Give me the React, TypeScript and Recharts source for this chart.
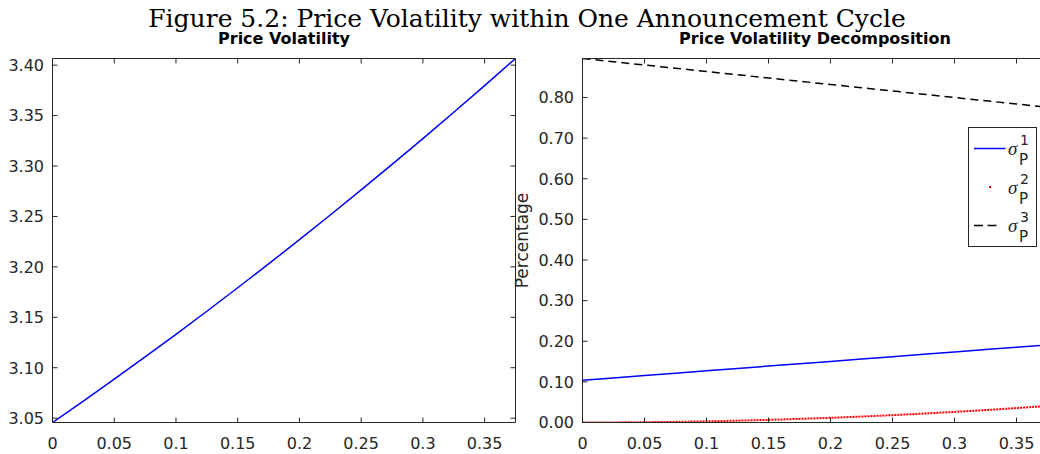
import React from 'react';
import { LineChart, Line, XAxis, YAxis, Legend } from 'recharts';

// time within the announcement cycle
const cycleTimes = [0, 0.025, 0.05, 0.075, 0.1, 0.125, 0.15, 0.175, 0.2, 0.225, 0.25, 0.275, 0.3, 0.325, 0.35, 0.375];

// left panel: price volatility
const priceVolatility = [3.0457, 3.067, 3.0886, 3.1107, 3.1331, 3.156, 3.1793, 3.2029, 3.227, 3.2514, 3.2763, 3.3016, 3.3272, 3.3533, 3.3797, 3.4066];

// right panel: decomposition shares
const sigmaP1 = [0.104, 0.1098, 0.1156, 0.1214, 0.1272, 0.133, 0.1388, 0.1446, 0.1504, 0.1562, 0.162, 0.1678, 0.1736, 0.1794, 0.1852, 0.191];
const sigmaP2 = [0, 0.0002, 0.0007, 0.0016, 0.0029, 0.0045, 0.0065, 0.0089, 0.0116, 0.0147, 0.0181, 0.0219, 0.0261, 0.0306, 0.0355, 0.0408];
const sigmaP3 = [0.896, 0.888, 0.88, 0.872, 0.864, 0.856, 0.848, 0.84, 0.832, 0.824, 0.816, 0.808, 0.8, 0.792, 0.784, 0.776];

const xTicks = [0, 0.05, 0.1, 0.15, 0.2, 0.25, 0.3, 0.35];
const volTicks = [3.05, 3.1, 3.15, 3.2, 3.25, 3.3, 3.35, 3.4];
const shareTicks = [0, 0.1, 0.2, 0.3, 0.4, 0.5, 0.6, 0.7, 0.8];

const volData = cycleTimes.map((x, i) => ({ x, vol: priceVolatility[i] }));
const shareData = cycleTimes.map((x, i) => ({ x, s1: sigmaP1[i], s2: sigmaP2[i], s3: sigmaP3[i] }));

const AX = '#262626';
const SANS = '"DejaVu Sans", sans-serif';
const TL = 5;

const fmtX = (v: number) => String(Number(v.toFixed(2)));

const BottomTick = (props: any) => {
  const { x, y, payload } = props;
  return (
    <g>
      <line x1={x} x2={x} y1={y} y2={y - TL} stroke={AX} />
      <text x={x} y={y + 26.5} textAnchor="middle" fontFamily={SANS} fontSize={16} fill={AX}>
        {fmtX(payload.value)}
      </text>
    </g>
  );
};

const TopTick = (props: any) => {
  const { x, y } = props;
  return <line x1={x} x2={x} y1={y} y2={y + TL} stroke={AX} />;
};

const LeftTick = (props: any) => {
  const { x, y, payload } = props;
  return (
    <g>
      <line x1={x} x2={x + TL} y1={y} y2={y} stroke={AX} />
      <text x={x - 8.5} y={y + 5.8} textAnchor="end" fontFamily={SANS} fontSize={16} fill={AX}>
        {payload.value.toFixed(2)}
      </text>
    </g>
  );
};

const RightTick = (props: any) => {
  const { x, y } = props;
  return <line x1={x} x2={x - TL} y1={y} y2={y} stroke={AX} />;
};

const SigmaLabel = ({ y, n }: { y: number; n: string }) => (
  <g fill={AX}>
    <text x={40} y={y} fontFamily='"Liberation Serif", serif' fontStyle="italic" fontSize={19}>σ</text>
    <text x={52} y={y - 10} fontFamily={SANS} fontSize={14}>{n}</text>
    <text x={51} y={y + 10} fontFamily={SANS} fontSize={15}>P</text>
  </g>
);

const LegendBox = () => (
  <svg width={69} height={120} style={{ display: 'block' }}>
    <rect x={0.5} y={0.5} width={68} height={119} fill="#fff" stroke={AX} />
    <line x1={6} x2={37.5} y1={21.5} y2={21.5} stroke="#0000ff" strokeWidth={1.5} />
    <SigmaLabel y={28} n="1" />
    <rect x={21} y={59} width={2} height={2} fill="#ff0000" />
    <SigmaLabel y={67} n="2" />
    <line x1={6} x2={29} y1={98.5} y2={98.5} stroke="#000" strokeWidth={1.5} strokeDasharray="9 4.5" />
    <SigmaLabel y={105} n="3" />
  </svg>
);

const PercentLabel = (props: any) => {
  const { viewBox } = props;
  const x = viewBox.x - 53.5;
  const y = viewBox.y + viewBox.height / 2;
  return (
    <text transform={`translate(${x},${y}) rotate(-90)`} textAnchor="middle" fontFamily={SANS} fontSize={17} fill={AX}>
      Percentage
    </text>
  );
};

const App: React.FC = () => {
  return (
    <div style={{ position: 'absolute', left: 0, top: 0, width: 1040, height: 454, overflow: 'hidden', background: '#fff' }}>
      <svg width={1040} height={50} style={{ position: 'absolute', left: 0, top: 0 }}>
        <text x={527} y={27} textAnchor="middle" fontFamily='"DejaVu Serif", serif' fontSize={25} fill="#000">
          Figure 5.2: Price Volatility within One Announcement Cycle
        </text>
        <text x={284} y={44} textAnchor="middle" fontFamily={SANS} fontWeight="bold" fontSize={16} fill="#000">
          Price Volatility
        </text>
        <text x={815} y={44} textAnchor="middle" fontFamily={SANS} fontWeight="bold" fontSize={16} fill="#000">
          Price Volatility Decomposition
        </text>
      </svg>

      <div style={{ position: 'absolute', left: 0, top: 0 }}>
        <LineChart width={530} height={454} data={volData} margin={{ top: 57.5, left: 51.5, right: 13.5, bottom: 30.5 }}>
          <XAxis dataKey="x" type="number" domain={[0, 0.375]} ticks={xTicks} allowDataOverflow height={1}
            tickSize={0} tickMargin={0} tickLine={false} axisLine={{ stroke: AX }} tick={<BottomTick />} interval={0} />
          <XAxis xAxisId="t" orientation="top" dataKey="x" type="number" domain={[0, 0.375]} ticks={xTicks} allowDataOverflow height={1}
            tickSize={0} tickMargin={0} tickLine={false} axisLine={{ stroke: AX }} tick={<TopTick />} interval={0} />
          <YAxis type="number" domain={[3.0457, 3.4066]} ticks={volTicks} allowDataOverflow width={1}
            tickSize={0} tickMargin={0} tickLine={false} axisLine={{ stroke: AX }} tick={<LeftTick />} interval={0} />
          <YAxis yAxisId="r" orientation="right" type="number" domain={[3.0457, 3.4066]} ticks={volTicks} allowDataOverflow width={1}
            tickSize={0} tickMargin={0} tickLine={false} axisLine={{ stroke: AX }} tick={<RightTick />} interval={0} />
          <Line type="linear" dataKey="vol" stroke="#0000ff" strokeWidth={1.5} dot={false} isAnimationActive={false} />
        </LineChart>
      </div>

      <div style={{ position: 'absolute', left: 500, top: 0 }}>
        <LineChart width={560} height={454} data={shareData} margin={{ top: 57.5, left: 81.5, right: 11.5, bottom: 30.5 }}>
          <XAxis dataKey="x" type="number" domain={[0, 0.375]} ticks={xTicks} allowDataOverflow height={1}
            tickSize={0} tickMargin={0} tickLine={false} axisLine={{ stroke: AX }} tick={<BottomTick />} interval={0} />
          <XAxis xAxisId="t" orientation="top" dataKey="x" type="number" domain={[0, 0.375]} ticks={xTicks} allowDataOverflow height={1}
            tickSize={0} tickMargin={0} tickLine={false} axisLine={{ stroke: AX }} tick={<TopTick />} interval={0} />
          <YAxis type="number" domain={[0, 0.896]} ticks={shareTicks} allowDataOverflow width={1}
            tickSize={0} tickMargin={0} tickLine={false} axisLine={{ stroke: AX }} tick={<LeftTick />} interval={0}
            label={<PercentLabel />} />
          <YAxis yAxisId="r" orientation="right" type="number" domain={[0, 0.896]} ticks={shareTicks} allowDataOverflow width={1}
            tickSize={0} tickMargin={0} tickLine={false} axisLine={{ stroke: AX }} tick={<RightTick />} interval={0} />
          <Legend layout="vertical" align="center" verticalAlign="middle" content={<LegendBox />}
            wrapperStyle={{ left: 468, top: 127, width: 69, height: 120 }} />
          <Line type="linear" dataKey="s1" name="σP1" stroke="#0000ff" strokeWidth={1.5} dot={false} isAnimationActive={false} />
          <Line type="linear" dataKey="s2" name="σP2" stroke="#ff0000" strokeWidth={2} strokeDasharray="2 1" dot={false} isAnimationActive={false} />
          <Line type="linear" dataKey="s3" name="σP3" stroke="#000000" strokeWidth={1.5} strokeDasharray="8 5" dot={false} isAnimationActive={false} />
        </LineChart>
      </div>
    </div>
  );
};

export default App;
